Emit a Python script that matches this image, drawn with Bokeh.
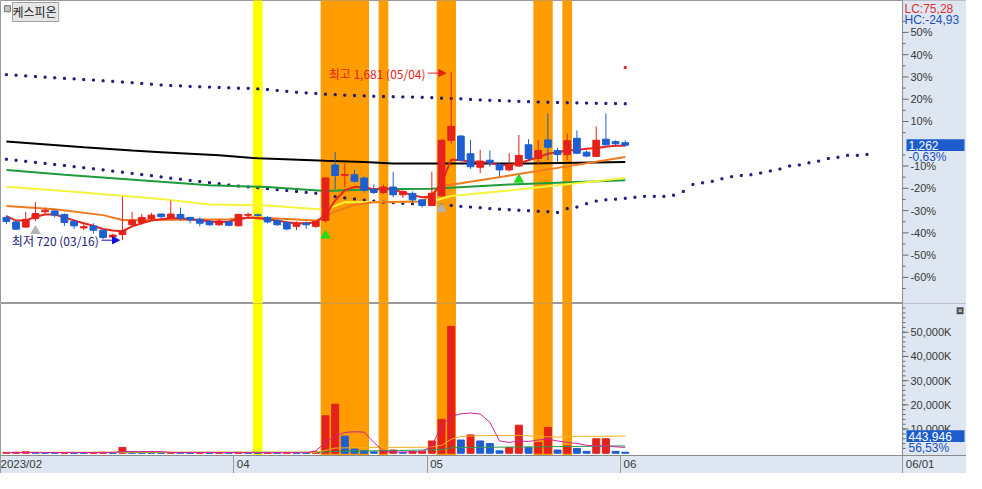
from bokeh.plotting import figure
from bokeh.layouts import column
from bokeh.models import ColumnDataSource, Range1d, FixedTicker, Label, Arrow, NormalHead
from bokeh.core.properties import value
from bokeh.embed import file_html
from bokeh.resources import INLINE

# ---------------- data ----------------
opens  = [850,824,795,843,882,887,867,827,790,801, 777,738,753,808,821,843,869,850,867,850,
          839,827,808,825,802,862,865,850,832,821, 799,817,799,832,1149,1090,1093,1075,1010,992,
          1023,979,987,950,918,973,1290,1314,1213,1136, 1176,1152,1121,1143,1264,1186,1292,1231,1208,1301,
          1222,1198,1296,1282,1276]
highs  = [862,832,882,937,906,894,872,839,812,817, 784,758,968,882,869,876,872,946,906,854,
          850,835,839,830,872,878,872,857,839,827, 827,827,829,1075,1222,1158,1121,1084,1038,1038,
          1108,1005,998,955,1111,1295,1681,1320,1292,1235, 1231,1160,1216,1320,1296,1292,1443,1246,1327,1346,
          1231,1369,1443,1290,1290]
lows   = [813,777,790,828,867,850,802,784,777,758, 725,725,720,799,808,832,845,845,832,817,
          799,802,802,800,799,850,856,817,802,777, 777,784,790,821,1010,1020,1048,992,983,983,
          965,961,937,906,917,970,1270,1170,1127,1103, 1139,1084,1112,1138,1176,1149,1176,1167,1176,1210,
          1193,1193,1259,1255,1255]
closes = [827,783,839,872,891,863,821,802,797,777, 736,749,775,832,850,863,854,869,845,835,
          817,808,830,805,867,867,861,824,808,784, 817,808,827,1075,1089,1095,1056,1005,992,1023,
          979,998,950,918,988,1290,1369,1176,1139,1171, 1161,1121,1152,1204,1186,1231,1250,1208,1287,1216,
          1200,1290,1264,1270,1262]
volumes_k = [350,420,600,380,260,240,310,280,220,300, 420,350,2400,600,380,300,240,330,290,210,
             260,230,250,200,380,260,220,240,210,260, 230,200,640,15480,20280,7080,1760,1080,600,1000,
             1350,400,800,800,5080,14000,52400,5480,7600,5080, 4000,1000,2400,11600,2400,4400,10680,1350,3080,2000,
             800,6000,6000,800,444]

ma_red = [857,832,832,854,867,867,850,832,817,802, 784,775,771,799,817,832,839,845,845,839,
          834,828,823,827,839,850,845,839,832,823, 817,817,821,863,946,1005,1023,1023,1010,1016,
          1010,992,977,965,970,1047,1180,1176,1167,1167, 1161,1149,1149,1158,1176,1194,1213,1222,1231,1235,
          1241,1246,1253,1259,1259]
ma_black_i = [0,8,13,16,22,26,33,37,40,46,54,64]
ma_black_v = [1283,1250,1231,1222,1204,1187,1173,1166,1158,1158,1158,1166]
ma_green_i = [0,6,16,21,27,33,38,44,52,64]
ma_green_v = [1121,1093,1053,1034,1023,1001,1010,1013,1038,1062]
ma_yellow_i = [0,6,16,21,27,33,35,44,46,52,64]
ma_yellow_v = [1025,1001,955,924,918,894,937,941,972,1003,1075]
ma_orange_i = [0,5,10,12,15,23,26,32,34,36,38,43,45,47,53,58,64]
ma_orange_v = [915,896,863,835,835,839,850,832,883,922,936,941,1029,1045,1097,1141,1194]

upper_dots = [1664,1661,1657,1653,1650,1646,1643,1640,1636,1633, 1629,1626,1622,1618,1614,1610,1605,1602,1600,1597,
              1595,1593,1591,1589,1587,1586,1583,1579,1574,1569, 1564,1560,1557,1553,1550,1547,1545,1543,1541,1539,
              1538,1537,1536,1535,1533,1530,1528,1526,1523,1520, 1518,1516,1514,1512,1510,1508,1507,1505,1504,1503,
              1502,1501,1500,1499,1498]
lower_dots = [1182,1176,1170,1164,1158,1152,1146,1139,1133,1127, 1121,1114,1108,1101,1094,1088,1081,1074,1068,1061,
              1055,1048,1042,1035,1029,1024,1019,1014,1008,1003, 998,993,988,978,968,961,955,948,943,937,
              934,931,928,925,923,920,918,913,909,905, 900,897,894,891,888,885,882,878,900,909,
              928,943,950,954,959,965,970,970,970,977, 998,1038,1047,1056,1070,1082,1089,1093,1103,1115,
              1126,1143,1149,1161,1171,1186,1193,1204,1204,1209]
red_mark_i, red_mark_v = [64], [1705]

vol_ma5_i = [0,11,12,16,17,31,32,33,34,35,36,37,38,39,40,43,44,45,46,47,48,49,50,51,52,53,54,55,56,57,58,59,60,61,62,63,64]
vol_ma5_v = [330,330,700,700,320,260,1000,4500,7080,8600,8900,8700,4500,900,400,680,3000,11500,15200,16300,16650,16200,
             12800,5080,4480,5080,4880,5480,5880,5080,4480,4080,3280,3080,3080,2680,2400]
vol_ma20_i = [0,12,20,32,33,34,37,43,44,45,46,47,49,53,55,57,59,64]
vol_ma20_v = [350,480,460,430,1200,2150,2400,2450,2650,3300,5800,6900,7300,7400,6900,6700,7000,7080]
vol_ma60_i = [0,32,35,40,45,46,50,56,64]
vol_ma60_v = [300,420,900,1100,1500,2300,2500,2700,3050]

gray_arrows_i, gray_arrows_v = [3, 45], [773, 900]
green_arrows_i, green_arrows_v = [33, 53], [747, 1066]

yellow_bands = [(26, 26)]
orange_bands = [(33, 37), (39, 39), (45, 46), (55, 56), (58, 58)]

BASE = 1270            # previous close = 0 %
pct_steps = [-6, -5, -4, -3, -2, -1, 1, 2, 3, 4, 5]
vol_ticks_k = [10000, 20000, 30000, 40000, 50000]
x_sep_ticks = [-0.6, 23.5, 43.5, 63.5, 92.68]
x_sep_labels = ["2023/02", "04", "05", "06", "06/01"]
stock_name = "케스피온"
hi_text = "최고 1,681 (05/04)"
lo_text = "최저 720 (03/16)"
lc_text, hc_text = "LC:75,28", "HC:-24,93"
last_price_text, last_pct_text = "1,262", "-0,63%"
last_vol_text, last_vol_pct_text = "443,946", "56,53%"
last_vol_box_k, last_vol_pct_k = 7080, 2280

# ---------------- styling / layout ----------------
W, H1, H2, BB = 966, 303, 170, 18
RED, BLUE = "#e4211b", "#1d5fd1"
ORANGE, YELLOW = "#ff9c00", "#ffff00"
NAVY = "#1c1c78"
AXBG = "#dde6f1"
BOXBLUE = "#1c5ccc"
FONT = "Liberation Sans"
KFONT = "Noto Sans CJK KR"
NB = "\u00a0"
# leading no-break spaces push the centred axis labels to the right of their separator
x_label_pad = [0, 6, 6, 6, 11]

X0, AX = -0.61, 92.68            # left edge / price-axis line (index units)
U = (AX - X0) / 917.0            # index units per reference pixel
XEND = X0 + 982 * U
PY0, PY1 = 359, 2087             # price range of the top panel
PY = (PY1 - PY0) / 313.0         # price per reference pixel
VY0, VY1 = -920, 61880           # volume range (K) of the lower panel
VY = (VY1 - VY0) / 157.0

N = len(closes)
idx = list(range(N))
xr = Range1d(X0, XEND)

def make_fig(height, yr, bottom):
    p = figure(width=W, height=height, x_range=xr, y_range=Range1d(*yr),
               output_backend="svg", toolbar_location=None,
               x_axis_location=("below" if bottom else None), y_axis_location=None,
               min_border_left=0, min_border_right=0, min_border_top=0,
               min_border_bottom=(BB if bottom else 0), background_fill_color="white",
               border_fill_color=AXBG, outline_line_color="#9a9a9a")
    p.grid.visible = False
    return p

def add_bands(p, lo, hi):
    for (a, b) in yellow_bands:
        p.quad(left=a - 0.5, right=b + 0.5, bottom=lo, top=hi, fill_color=YELLOW, line_color=None)
    for (a, b) in orange_bands:
        p.quad(left=a - 0.5, right=b + 0.5, bottom=lo, top=hi, fill_color=ORANGE, line_color=None)

def add_value_axis(p, lo, hi, ticks, labels, minors):
    p.quad(left=AX, right=XEND + 1, bottom=lo - 1e5, top=hi + 1e5, fill_color=AXBG, line_color=None)
    p.segment(x0=[AX], y0=[lo - 1e5], x1=[AX], y1=[hi + 1e5], line_color="#8a8a8a", line_width=1)
    p.segment(x0=[AX] * len(ticks), y0=ticks, x1=[AX + 6 * U] * len(ticks), y1=ticks,
              line_color="#6a6a6a", line_width=1)
    p.segment(x0=[AX] * len(minors), y0=minors, x1=[AX + 3 * U] * len(minors), y1=minors,
              line_color="#6a6a6a", line_width=1)
    p.text(x=[AX + 8 * U] * len(ticks), y=ticks, text=labels, text_align="left",
           text_baseline="middle", text_color="#3a3a3a", text_font=value(FONT),
           text_font_size="11px")

# ================= price panel =================
p1 = make_fig(H1, (PY0, PY1), False)
add_bands(p1, PY0 - 100, PY1 + 100)

p1.scatter(list(range(len(upper_dots))), upper_dots, marker="square", size=2, color=NAVY)
p1.scatter(list(range(len(lower_dots))), lower_dots, marker="square", size=2, color=NAVY)
p1.scatter(red_mark_i, red_mark_v, marker="square", size=2, color=RED)

p1.line(ma_black_i, ma_black_v, color="black", line_width=2)
p1.line(ma_green_i, ma_green_v, color="#1e9b3c", line_width=2)
p1.line(ma_yellow_i, ma_yellow_v, color="#f4f43c", line_width=2)
p1.line(ma_orange_i, ma_orange_v, color="#f07a1e", line_width=2)
p1.line(idx, ma_red, color="#e8261c", line_width=2)

ccol = [RED if c >= o else BLUE for o, c in zip(opens, closes)]
csrc = ColumnDataSource(dict(x=idx, o=opens, h=highs, l=lows, c=closes,
                             top=[max(o, c) for o, c in zip(opens, closes)],
                             bot=[min(o, c) for o, c in zip(opens, closes)], col=ccol))
p1.segment(x0="x", y0="l", x1="x", y1="h", color="col", line_width=1, source=csrc)
p1.vbar(x="x", top="top", bottom="bot", width=0.7, fill_color="col", line_color="col", source=csrc)

p1.scatter(gray_arrows_i, gray_arrows_v, marker="triangle", size=9, color="#b4b4b4")
p1.scatter(green_arrows_i, green_arrows_v, marker="triangle", size=9, color="#22dd22")

hi_i = highs.index(max(highs)); hi_v = max(highs)
lo_i = lows.index(min(lows)); lo_v = min(lows)
p1.text(x=[hi_i - 2.65], y=[hi_v - 8], text=[hi_text], text_align="right", text_baseline="middle",
        text_color="#e2231a", text_font=value(KFONT), text_font_size="12px")
p1.add_layout(Arrow(x_start=hi_i - 2.4, y_start=hi_v - 8, x_end=hi_i - 0.55, y_end=hi_v - 8,
                    line_color="#e2231a", line_width=1,
                    end=NormalHead(size=7, fill_color="#e2231a", line_color="#e2231a")))
p1.text(x=[lo_i - 2.45], y=[lo_v], text=[lo_text], text_align="right", text_baseline="middle",
        text_color="#22227a", text_font=value(KFONT), text_font_size="12px")
p1.add_layout(Arrow(x_start=lo_i - 2.15, y_start=lo_v, x_end=lo_i - 0.3, y_end=lo_v,
                    line_color="#1010e0", line_width=1,
                    end=NormalHead(size=7, fill_color="#1010e0", line_color="#1010e0")))

pticks = [BASE + 127 * k for k in pct_steps]
add_value_axis(p1, PY0, PY1, pticks, [f"{k * 10}%" for k in pct_steps],
               [BASE + 127 * k + 63.5 for k in range(-7, 6)])

# right-side read-outs
p1.text(x=[AX + 2 * U], y=[PY1 - 2 * PY], text=[lc_text], text_align="left", text_baseline="top",
        text_color="#e03030", text_font=value(FONT), text_font_size="12px")
p1.text(x=[AX + 2 * U], y=[PY1 - 13 * PY], text=[hc_text], text_align="left", text_baseline="top",
        text_color="#2050c0", text_font=value(FONT), text_font_size="12px")
last = closes[-1]
p1.quad(left=AX + 4 * U, right=AX + 63 * U, bottom=last - 6 * PY, top=last + 6 * PY,
        fill_color=BOXBLUE, line_color=None)
p1.text(x=[AX + 6 * U], y=[last], text=[last_price_text], text_align="left", text_baseline="middle",
        text_color="white", text_font=value(FONT), text_font_size="12px")
p1.text(x=[AX + 6 * U], y=[last - 12 * PY], text=[last_pct_text], text_align="left",
        text_baseline="middle", text_color="#2050c0", text_font=value(FONT), text_font_size="12px")

# stock name tag
p1.scatter(x=[X0 + 7 * U], y=[PY1 - 8.5 * PY], marker="square", size=6,
           fill_color="#c4c4c4", line_color="#707070")
p1.add_layout(Label(x=12, y=H1 - 2, x_units="screen", y_units="screen", text=stock_name,
                    text_color="#222222", text_font=KFONT, text_font_size="12px",
                    text_baseline="top", background_fill_color="#e6e6e6",
                    border_line_color="#a0a0a0", padding=(0, 2, 0, 2)))

# ================= volume panel =================
p2 = make_fig(H2, (VY0, VY1), True)
add_bands(p2, VY0 - 1000, VY1 + 1000)

vcol = [RED] + [RED if volumes_k[i] >= volumes_k[i - 1] else BLUE for i in range(1, N)]
vsrc = ColumnDataSource(dict(x=idx, v=volumes_k, col=vcol))
p2.vbar(x="x", top="v", bottom=0, width=0.72, fill_color="col", line_color="col", source=vsrc)
p2.line(vol_ma60_i, vol_ma60_v, color="#2e9a4a", line_width=1)
p2.line(vol_ma20_i, vol_ma20_v, color="#f0b020", line_width=1)
p2.line(vol_ma5_i, vol_ma5_v, color="#d0209c", line_width=1)

add_value_axis(p2, VY0, VY1, vol_ticks_k, [f"{t:,}K" for t in vol_ticks_k],
               list(range(2000, 62000, 2000)))
p2.quad(left=AX + 4 * U, right=AX + 63 * U, bottom=last_vol_box_k - 6 * VY,
        top=last_vol_box_k + 6 * VY, fill_color=BOXBLUE, line_color=None)
p2.text(x=[AX + 6 * U], y=[last_vol_box_k], text=[last_vol_text], text_align="left",
        text_baseline="middle", text_color="white", text_font=value(FONT), text_font_size="12px")
p2.text(x=[AX + 6 * U], y=[last_vol_pct_k], text=[last_vol_pct_text], text_align="left",
        text_baseline="middle", text_color="#2050c0", text_font=value(FONT), text_font_size="12px")
# panel close icon
p2.quad(left=AX + 55 * U, right=AX + 62 * U, bottom=VY1 - 11 * VY, top=VY1 - 4 * VY,
        fill_color="#505050", line_color=None)
p2.text(x=[AX + 58.5 * U], y=[VY1 - 7.5 * VY], text=["×"], text_align="center",
        text_baseline="middle", text_color="white", text_font=value(FONT), text_font_size="8px")

xax = p2.xaxis[0]
xax.ticker = FixedTicker(ticks=x_sep_ticks, minor_ticks=[])
xax.major_label_overrides = {t: NB * n + s for t, s, n in zip(x_sep_ticks, x_sep_labels, x_label_pad)}
xax.axis_line_color = "#8a8a8a"
xax.major_tick_line_color = "#9a9a9a"
xax.major_tick_in = 0; xax.major_tick_out = BB
xax.major_label_standoff = -16
xax.major_label_text_font = FONT
xax.major_label_text_font_size = "11.5px"
xax.major_label_text_color = "#3a3a3a"

layout = column(p1, p2)
open("out.html", "w").write(file_html(layout, INLINE))
